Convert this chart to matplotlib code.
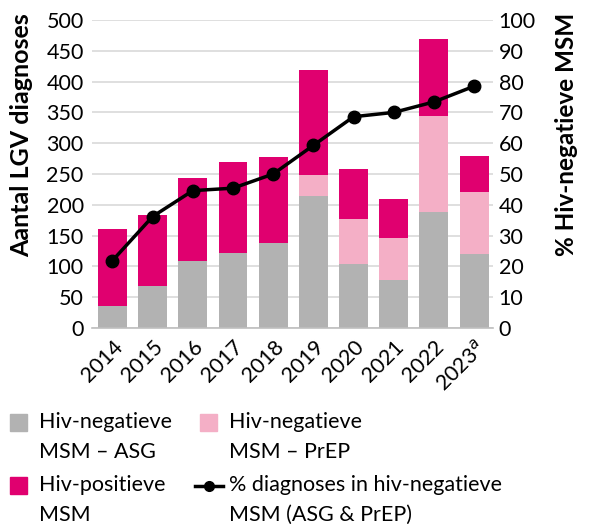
import matplotlib.pyplot as plt
from matplotlib.legend_handler import HandlerBase
from matplotlib.lines import Line2D
from matplotlib.patches import Patch, Rectangle
import numpy as np

plt.rcParams['font.family'] = ['Lato', 'DejaVu Sans']

years = ['2014', '2015', '2016', '2017', '2018', '2019', '2020', '2021', '2022', '2023$^{a}$']
neg_asg = [35, 68, 109, 122, 138, 215, 104, 78, 189, 120]
neg_prep = [0, 0, 0, 0, 0, 34, 73, 68, 155, 100]
pos = [125, 116, 135, 148, 140, 170, 81, 64, 125, 60]
pct_neg = [21.9, 36.2, 44.6, 45.4, 50.0, 59.3, 68.6, 70.0, 73.4, 78.5]

GRAY = '#b2b2b2'
PINK = '#f4afc6'
MAGENTA = '#e0006f'
FS = 15.5
LINE_UP = 10.5  # legend handles sit on the first text line


class SquareHandler(HandlerBase):
    def create_artists(self, legend, orig, xd, yd, w, h, fs, trans):
        s = 12.2
        cx, cy = -xd + w / 2, -yd + h / 2 + LINE_UP
        return [Rectangle((cx - s / 2, cy - s / 2), s, s, color=orig.get_facecolor(), transform=trans)]


class LineHandler(HandlerBase):
    def create_artists(self, legend, orig, xd, yd, w, h, fs, trans):
        cy = -yd + h / 2 + LINE_UP
        ln = Line2D([-xd, -xd + w], [cy, cy], color='black', lw=2.5, transform=trans)
        mk = Line2D([-xd + w / 2], [cy], color='black', marker='o', ms=7, transform=trans)
        return [ln, mk]


fig = plt.figure(figsize=(5.92, 5.24), dpi=100)
ax = fig.add_axes([92 / 592, 1 - 328 / 524, 401 / 592, 308 / 524])
x = np.arange(len(years))
w = 0.72
b1 = np.array(neg_asg)
b2 = b1 + np.array(neg_prep)
ax.bar(x, neg_asg, w, color=GRAY, zorder=2)
ax.bar(x, neg_prep, w, bottom=b1, color=PINK, zorder=2)
ax.bar(x, pos, w, bottom=b2, color=MAGENTA, zorder=2)

ax.set_ylim(0, 500)
ax.set_yticks(range(0, 501, 50))
ax.set_xlim(-0.51, 9.47)
ax.set_xticks(x)
ax.set_xticklabels(years, rotation=45, ha='right', rotation_mode='anchor', fontsize=FS)
ax.tick_params(axis='x', length=0, pad=6)
ax.tick_params(axis='y', length=0, pad=6, labelsize=FS)
ax.grid(axis='y', color='#d9d9d9', lw=1.2, zorder=0)
for s in ['left', 'right', 'top']:
    ax.spines[s].set_visible(False)
ax.spines['bottom'].set_color('#bfbfbf')
ax.spines['bottom'].set_linewidth(1.2)
ax.set_ylabel('Aantal LGV diagnoses', fontsize=18, fontweight='bold', loc='top')
ax.yaxis.set_label_coords(-0.147, 1.023)

ax2 = ax.twinx()
ax2.plot(x, pct_neg, '-o', color='black', lw=2.5, ms=9, zorder=5)
ax2.set_ylim(0, 100)
ax2.set_yticks(range(0, 101, 10))
ax2.tick_params(axis='y', length=0, pad=4, labelsize=FS)
for s in ['left', 'right', 'top', 'bottom']:
    ax2.spines[s].set_visible(False)
ax2.set_ylabel('% Hiv-negatieve MSM', fontsize=17.5, fontweight='bold', loc='top')
ax2.yaxis.set_label_coords(1.155, 1.023)

p_asg = Patch(color=GRAY, label='Hiv-negatieve\nMSM – ASG')
p_pos = Patch(color=MAGENTA, label='Hiv-positieve\nMSM')
p_prep = Patch(color=PINK, label='Hiv-negatieve\nMSM – PrEP')
l_pct = Line2D([], [], color='black', label='% diagnoses in hiv-negatieve\nMSM (ASG & PrEP)')
leg = fig.legend(handles=[p_asg, p_pos, p_prep, l_pct], ncol=2, loc='upper left',
                 bbox_to_anchor=(0.0, 0.222), borderaxespad=0, borderpad=0.2,
                 frameon=False, fontsize=FS, handlelength=1.3,
                 handletextpad=0.3, columnspacing=1.07, labelspacing=0.62,
                 handler_map={Patch: SquareHandler(), Line2D: LineHandler()})
for t in leg.get_texts():
    t.set_linespacing(1.6)

fig.savefig('out.png', dpi=100)
